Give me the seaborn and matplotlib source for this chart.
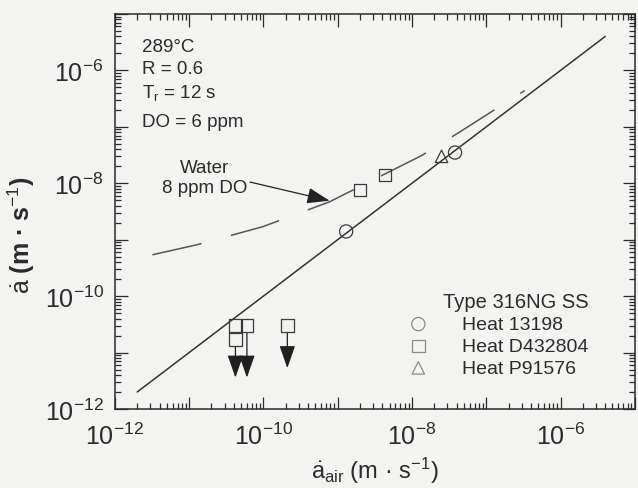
import numpy as np
import matplotlib
matplotlib.use("Agg")
import matplotlib.pyplot as plt
import seaborn as sns
from matplotlib.ticker import LogLocator, FuncFormatter, NullFormatter

# Crack growth rates, m/s: rate in air (x) vs. rate in water (y)
heat_13198_air = [1.3e-9, 3.8e-8]
heat_13198_env = [1.4e-9, 3.5e-8]
heat_d432804_air = [2.0e-9, 4.3e-9, 4.2e-11, 6.0e-11, 4.2e-11, 2.1e-10]
heat_d432804_env = [7.6e-9, 1.4e-8, 3.0e-11, 3.0e-11, 1.7e-11, 3.0e-11]
heat_p91576_air = [2.5e-8]
heat_p91576_env = [3.0e-8]

# Upper-bound tests (no measurable growth): start and end of the down arrows
runout_air = [4.2e-11, 6.0e-11, 2.1e-10]
runout_from = [1.7e-11, 3.0e-11, 3.0e-11]
runout_to = [3.6e-12, 3.6e-12, 5.3e-12]

# Rate in water equal to rate in air
air_line_x = [2.0e-12, 4.0e-6]
air_line_y = [2.0e-12, 4.0e-6]

# Trend for water with 8 ppm dissolved oxygen
water_x = [3.2e-12, 1.26e-11, 9.8e-11, 7.8e-10, 1.35e-8, 4.2e-8, 3.3e-7]
water_y = [5.4e-10, 8.1e-10, 1.7e-9, 4.7e-9, 3.1e-8, 7.8e-8, 4.4e-7]

# Arrow for the "Water 8 ppm DO" note
note_from = (6.6e-11, 1.05e-8)
note_to = (7.8e-10, 4.9e-9)

conditions = ["289°C", "R = 0.6", r"T$_\mathregular{r}$ = 12 s", "DO = 6 ppm"]

sns.set_theme(style="ticks")
bg = "#f3f3f1"
ink = "#2b2b2b"
plt.rcParams.update({
    "font.family": ["Liberation Sans", "DejaVu Sans"],
    "mathtext.fontset": "custom",
    "mathtext.rm": "Liberation Sans",
    "mathtext.it": "Liberation Sans",
    "mathtext.bf": "Liberation Sans:bold",
    "text.color": ink,
    "axes.edgecolor": ink,
    "xtick.color": ink,
    "ytick.color": ink,
    "axes.labelcolor": ink,
})

fig = plt.figure(figsize=(6.38, 4.89), dpi=100, facecolor=bg)
ax = fig.add_axes([0.180, 0.1616, 0.815, 0.8078])
ax.set_facecolor(bg)
ax.set(xscale="log", yscale="log", xlim=(1e-12, 1e-5), ylim=(1e-12, 1e-5))

sns.lineplot(x=air_line_x, y=air_line_y, ax=ax, color="#333333", lw=1.1,
             sort=False, estimator=None)
sns.lineplot(x=water_x, y=water_y, ax=ax, color="#555555", lw=1.1,
             sort=False, estimator=None, linestyle=(0, (33, 20)))

mk = dict(facecolors="none", edgecolor="#3a3a3a", linewidth=0.9, zorder=4, ax=ax)
sns.scatterplot(x=heat_13198_air, y=heat_13198_env, marker="o", s=90,
                label="Heat 13198", **mk)
sns.scatterplot(x=heat_d432804_air, y=heat_d432804_env, marker="s", s=80,
                label="Heat D432804", **mk)
sns.scatterplot(x=heat_p91576_air, y=heat_p91576_env, marker="^", s=80,
                label="Heat P91576", **mk)

for xa, y0, y1 in zip(runout_air, runout_from, runout_to):
    ax.annotate("", xy=(xa, y1), xytext=(xa, y0),
                arrowprops=dict(arrowstyle="-|>,head_length=1.0,head_width=0.35",
                                color="#1f1f1f", lw=0.9, shrinkA=5, shrinkB=0,
                                mutation_scale=14))

ax.text(1.6e-11, 1.26e-8, "Water\n8 ppm DO", ha="center", va="center",
        fontsize=13.5, linespacing=1.2)
ax.annotate("", xy=note_to, xytext=note_from,
            arrowprops=dict(arrowstyle="-|>,head_length=1.0,head_width=0.35",
                            color="#222222", lw=0.9, shrinkA=0, shrinkB=0,
                            mutation_scale=14))

for i, line in enumerate(conditions):
    ax.text(0.052, [0.917, 0.862, 0.803, 0.729][i], line, transform=ax.transAxes,
            ha="left", va="center", fontsize=13.5)

leg = ax.legend(title="Type 316NG SS", loc="upper left",
                bbox_to_anchor=(0.55, 0.315), frameon=False, fontsize=14,
                title_fontsize=14.5, handletextpad=1.75, labelspacing=0.22,
                borderaxespad=0, handlelength=1.0, alignment="right")
for h in leg.legend_handles:
    h.set_edgecolor("#8a8a8a")

def decade_label(v, pos):
    e = int(round(np.log10(v)))
    return r"$\mathdefault{10^{%d}}$" % e if e % 2 == 0 else ""

for axis in (ax.xaxis, ax.yaxis):
    axis.set_major_locator(LogLocator(base=10, subs=(1.0,), numticks=20))
    axis.set_minor_locator(LogLocator(base=10, subs=np.arange(2, 10), numticks=20))
    axis.set_major_formatter(FuncFormatter(decade_label))
    axis.set_minor_formatter(NullFormatter())

ax.tick_params(which="both", direction="in", top=True, right=True, width=0.9)
ax.tick_params(which="major", length=9, labelsize=18)
ax.tick_params(axis="x", which="major", pad=10)
ax.tick_params(axis="y", which="major", pad=8)
ax.tick_params(which="minor", length=4.5)
for s in ax.spines.values():
    s.set_linewidth(1.1)

ax.set_xlabel(r"$\dot{a}_{air}$ (m · s$^{-1}$)", fontsize=17)
ax.set_ylabel(r"$\dot{a}$ (m · s$^{-1}$)", fontsize=18, fontweight="bold")
ax.xaxis.set_label_coords(0.5, -0.115)
ax.yaxis.set_label_coords(-0.15, 0.443)

fig.savefig("out.png", dpi=100, facecolor=bg)
